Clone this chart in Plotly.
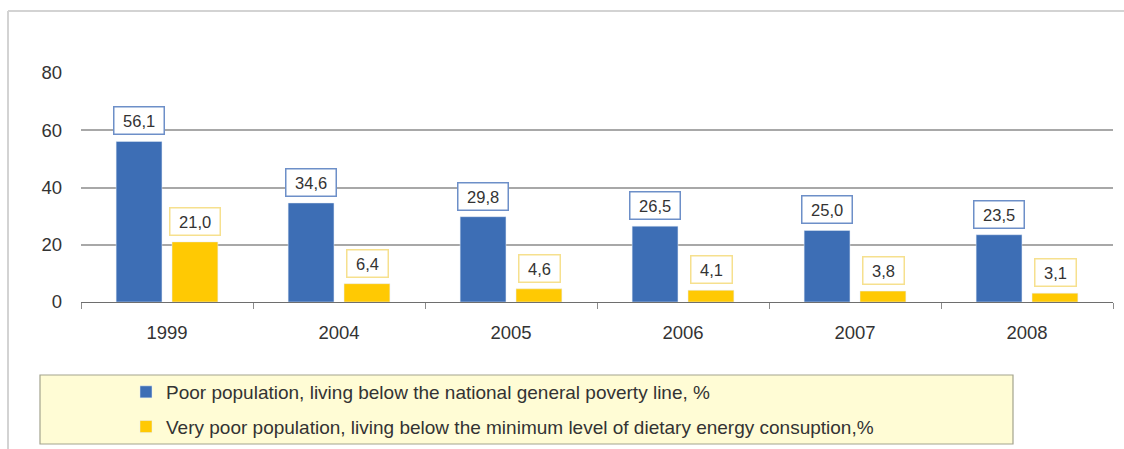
import plotly.graph_objects as go

years = ["1999", "2004", "2005", "2006", "2007", "2008"]
poor = [56.1, 34.6, 29.8, 26.5, 25.0, 23.5]
very_poor = [21.0, 6.4, 4.6, 4.1, 3.8, 3.1]
y_ticks = [0, 20, 40, 60, 80]

poor_name = "Poor population, living below the national general poverty line, %"
very_poor_name = "Very poor population, living below the minimum level of dietary energy consuption,%"

BLUE = "#3D6EB5"
YELLOW = "#FFC903"
TEXT = "#333333"
FONT = "Liberation Sans, Arial, sans-serif"


def fmt(v):
    return f"{v:.1f}".replace(".", ",")


fig = go.Figure()
fig.add_trace(go.Bar(x=years, y=poor, name=poor_name, marker_color=BLUE,
                     legendgroup="a"))
fig.add_trace(go.Bar(x=years, y=very_poor, name=very_poor_name,
                     marker_color=YELLOW, legendgroup="b"))

# boxed value labels above each bar (x given as category index)
pad = "\u00a0"
for i, v in enumerate(poor):
    fig.add_annotation(x=i, y=v, xref="x", yref="y", text=pad + fmt(v) + pad,
                       showarrow=False, yanchor="bottom", xshift=-28, yshift=6,
                       font=dict(size=16.5, color=TEXT, family=FONT),
                       bgcolor="white", bordercolor="#6D8FC8", borderwidth=1.5,
                       borderpad=4)
for i, v in enumerate(very_poor):
    fig.add_annotation(x=i, y=v, xref="x", yref="y", text=pad + fmt(v) + pad,
                       showarrow=False, yanchor="bottom", xshift=28, yshift=6,
                       font=dict(size=16.5, color=TEXT, family=FONT),
                       bgcolor="white", bordercolor="#F6E08E", borderwidth=1.5,
                       borderpad=4)

W, H = 1124, 449
L, R, T, B = 81, 11, 73, 147
pw, ph = W - L - R, H - T - B


def px_x(p):
    return (p - L) / pw


def px_y(p):
    return (H - B - p) / ph


# outer frame (top and left edges)
fig.add_shape(type="line", xref="paper", yref="paper",
              x0=px_x(8), x1=px_x(1130), y0=px_y(11), y1=px_y(11),
              line=dict(color="#D3D3D3", width=2), layer="below")
fig.add_shape(type="line", xref="paper", yref="paper",
              x0=px_x(8), x1=px_x(8), y0=px_y(11), y1=px_y(455),
              line=dict(color="#D3D3D3", width=2), layer="below")
# legend panel
fig.add_shape(type="rect", xref="paper", yref="paper",
              x0=px_x(40), x1=px_x(1013), y0=px_y(375), y1=px_y(444),
              fillcolor="#FFFCD5", line=dict(color="#A3A38E", width=1.2),
              layer="below")

fig.update_layout(
    width=W, height=H,
    margin=dict(l=L, r=R, t=T, b=B, autoexpand=False),
    paper_bgcolor="white", plot_bgcolor="white",
    barmode="group", bargap=0.35, bargroupgap=0.18,
    font=dict(family=FONT, color=TEXT),
    showlegend=True,
    legend=dict(x=px_x(126), y=px_y(373), xanchor="left", yanchor="top",
                bgcolor="rgba(0,0,0,0)", borderwidth=0,
                font=dict(size=19, color=TEXT, family=FONT),
                tracegroupgap=7, traceorder="grouped"),
)
fig.update_xaxes(type="category", range=[-0.5, 5.5], showline=True,
                 linecolor="#6E6E6E", automargin=False,
                 linewidth=1.2, ticks="outside", tickson="boundaries",
                 ticklen=6, tickcolor="#8C8C8C", ticklabelstandoff=14,
                 tickangle=0,
                 tickfont=dict(size=18.5, color=TEXT, family=FONT),
                 showgrid=False)
fig.update_yaxes(range=[0, 80], tickvals=y_ticks, showgrid=True,
                 gridcolor="#A8A8A8", gridwidth=1.5, zeroline=False,
                 showline=False, ticks="", ticklabelstandoff=18,
                 automargin=False,
                 tickfont=dict(size=18.5, color=TEXT, family=FONT))

fig.write_html("out.html")
